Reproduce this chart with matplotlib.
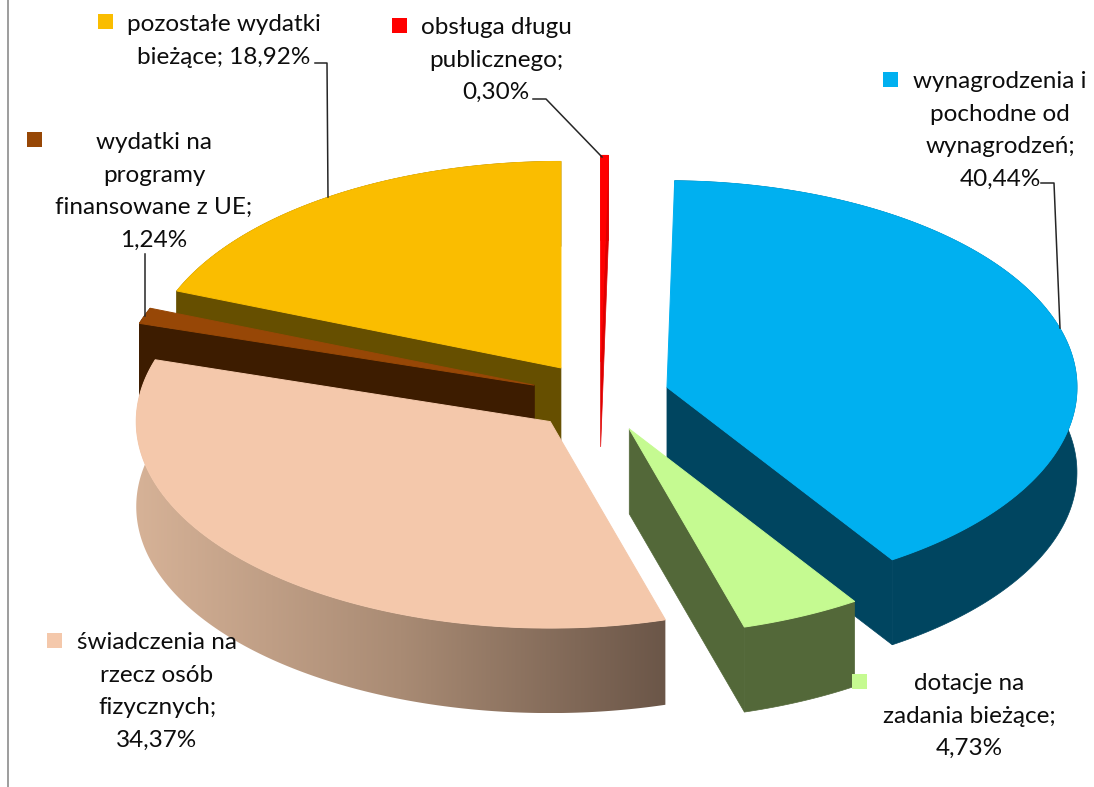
import numpy as np
import matplotlib as mpl
import matplotlib.pyplot as plt
from matplotlib.patches import Polygon, Rectangle
from matplotlib.colors import LinearSegmentedColormap

plt.rcParams["font.family"] = ["Lato", "DejaVu Sans"]

# clockwise from 12 o'clock
aName = ['obsługa długu\npublicznego;',
         'wynagrodzenia i\npochodne od\nwynagrodzeń;',
         'dotacje na\nzadania bieżące;',
         'świadczenia na\nrzecz osób\nfizycznych;',
         'wydatki na\nprogramy\nfinansowane z UE;',
         'pozostałe wydatki\nbieżące;']
aValue = [0.30, 40.44, 4.73, 34.37, 1.24, 18.92]

aColor_top = ['#FF0000', '#00B0F0', '#C5FA91', '#F4C8AB', '#974706', '#FABD00']
aColor_side = ['#E00000', '#004560', '#536839', '#000000', '#3D1C00', '#664F00']
# slices are painted back to front
aOrder = [5, 0, 4, 1, 3, 2]

dCenter_x, dCenter_y = 600, 397
dRadius_right, dRadius_left, dRadius_y = 410, 414, 206.5
dDepth = 85
dExplode = 0.17

# label centre, first line y, legend key left/top, leader line
aLabel_x = [496, 1000, 969, 157, 154, 224]
aLabel_y = [27.5, 81.5, 683.5, 642.5, 142.5, 24.5]
aKey = [(392, 18), (883, 72), (852, 674), (47, 633), (27, 132), (98, 14)]
aLeader = [[(533, 99), (546, 99), (602, 157)],
           [(1041, 183), (1054, 183), (1060, 328)],
           None,
           None,
           [(144.5, 254), (144.5, 316)],
           [(315, 63), (327, 63), (328, 197)]]
dLine_height = 32.6
dFontsize = 17.5


def rim_point(dAngle, x0, y0, dOffset=0.0):
    dTheta = np.radians(dAngle)
    dSin = np.sin(dTheta)
    return x0 + np.where(dSin < 0, dRadius_left, dRadius_right) * dSin, y0 - dRadius_y * np.cos(dTheta) + dOffset


fig = plt.figure(figsize=(10.94, 7.87), dpi=100)
ax = fig.add_axes([0, 0, 1, 1])

aAngle = np.concatenate([[0], np.cumsum(aValue) / np.sum(aValue) * 360])

for i in aOrder:
    a0, a1 = aAngle[i], aAngle[i + 1]
    dMid = np.radians((a0 + a1) / 2)
    x0 = dCenter_x + dExplode * dRadius_right * np.sin(dMid)
    y0 = dCenter_y - dExplode * dRadius_y * np.cos(dMid)
    aArc = np.linspace(a0, a1, 200)
    xs, ys = rim_point(aArc, x0, y0)

    # outer wall
    aWall = np.column_stack([np.r_[xs, xs[::-1]], np.r_[ys, ys[::-1] + dDepth]])
    if i == 3:
        pWall = Polygon(aWall, closed=True, facecolor='none', edgecolor='none')
        ax.add_patch(pWall)
        pCmap = LinearSegmentedColormap.from_list('wall', ['#D6B297', '#A98B74', '#6B5648'])
        pImage = ax.imshow(np.linspace(0, 1, 256).reshape(1, -1), cmap=pCmap, aspect='auto',
                           extent=[xs.min(), xs.max(), ys.max() + dDepth, ys.min()], zorder=2)
        pImage.set_clip_path(pWall)
    else:
        ax.add_patch(Polygon(aWall, closed=True, facecolor=aColor_side[i], edgecolor=aColor_side[i],
                             lw=0.5, zorder=2))

    # cut faces, only the ones turned towards the viewer
    for dCut, dSign in ((a0, -1), (a1, 1)):
        if dSign * np.sin(np.radians(dCut)) > 1E-6:
            xc, yc = rim_point(dCut, x0, y0)
            aFace = [(x0, y0), (xc, yc), (xc, yc + dDepth), (x0, y0 + dDepth)]
            ax.add_patch(Polygon(aFace, closed=True, facecolor=aColor_side[i], edgecolor=aColor_side[i],
                                 lw=0.5, zorder=2))

    # the top edge covers the hairline of the wall behind it
    ax.add_patch(Polygon(np.column_stack([np.r_[x0, xs], np.r_[y0, ys]]), closed=True,
                         facecolor=aColor_top[i], edgecolor=aColor_top[i], lw=0.7, zorder=2))

for i in range(len(aValue)):
    sText = aName[i] + '\n' + ('%.2f%%' % aValue[i]).replace('.', ',')
    if i == 5:
        sText = aName[i] + ' ' + ('%.2f%%' % aValue[i]).replace('.', ',')
    for j, sLine in enumerate(sText.split('\n')):
        ax.text(aLabel_x[i], aLabel_y[i] + j * dLine_height, sLine, fontsize=dFontsize,
                color='#0D0D0D', ha='center', va='center', zorder=4)
    ax.add_patch(Rectangle(aKey[i], 15, 15, facecolor=aColor_top[i], edgecolor='none', zorder=5))
    if aLeader[i] is not None:
        aLine = np.array(aLeader[i])
        ax.plot(aLine[:, 0], aLine[:, 1], color='#262626', lw=1.1, zorder=3)

ax.plot([7.5, 7.5], [0, 787], color='#8C8C8C', lw=1.2, zorder=1)

ax.set_xlim(0, 1094)
ax.set_ylim(787, 0)
ax.axis('off')

plt.savefig('out.png', dpi=100)
